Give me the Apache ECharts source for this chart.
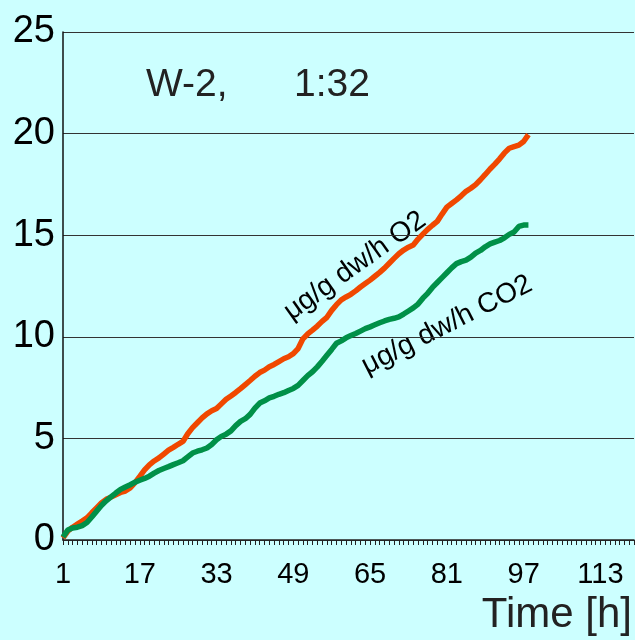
<!DOCTYPE html>
<html><head><meta charset="utf-8">
<script src="https://cdn.jsdelivr.net/npm/echarts@6/dist/echarts.min.js"></script>
<style>html,body{margin:0;padding:0;background:#ccffff}#c{width:635px;height:640px}</style>
</head><body><div id="c"></div>
<script>
var categories = [];
for (var i = 1; i <= 120; i++) categories.push(String(i));
var o2Values = [0.1,0.44,0.63,0.78,0.93,1.09,1.34,1.58,1.82,2.0,2.11,2.23,2.34,2.41,2.56,2.82,3.13,3.45,3.7,3.89,4.04,4.23,4.42,4.56,4.71,4.85,5.23,5.53,5.77,6.01,6.21,6.36,6.47,6.7,6.93,7.09,7.26,7.45,7.65,7.85,8.06,8.24,8.36,8.53,8.64,8.78,8.92,9.02,9.17,9.42,9.9,10.14,10.33,10.53,10.76,10.96,11.3,11.58,11.82,11.96,12.09,12.26,12.45,12.62,12.79,12.98,13.17,13.38,13.62,13.86,14.09,14.27,14.41,14.52,14.81,15.05,15.29,15.49,15.68,16.04,16.38,16.56,16.74,16.94,17.16,17.31,17.49,17.73,17.99,18.26,18.5,18.76,19.05,19.28,19.36,19.43,19.61,19.95];
var co2Values = [0.15,0.49,0.59,0.63,0.71,0.86,1.13,1.42,1.7,1.93,2.12,2.31,2.49,2.61,2.72,2.84,2.94,3.03,3.14,3.29,3.42,3.52,3.61,3.71,3.8,3.9,4.09,4.28,4.37,4.44,4.53,4.7,4.93,5.1,5.21,5.37,5.63,5.84,5.97,6.18,6.49,6.74,6.85,6.99,7.07,7.17,7.25,7.36,7.46,7.61,7.85,8.09,8.28,8.52,8.8,9.09,9.38,9.68,9.8,9.95,10.06,10.16,10.28,10.4,10.49,10.59,10.69,10.78,10.86,10.91,10.98,11.12,11.27,11.42,11.61,11.9,12.14,12.43,12.67,12.91,13.15,13.39,13.6,13.7,13.77,13.92,14.12,14.25,14.43,14.57,14.66,14.74,14.87,15.04,15.16,15.43,15.5,15.5];
var yTicks = [0,5,10,15,20,25];
var titleLeft = 'W-2,';
var titleRight = '1:32';
var o2Label = 'μg/g dw/h O2';
var co2Label = 'μg/g dw/h CO2';
var xName = 'Time [h]';

var chart = echarts.init(document.getElementById('c'));
var font = 'Liberation Sans, Arial, sans-serif';
chart.setOption({
  backgroundColor: '#ccffff',
  animation: false,
  grid: {left: 63, right: 1, top: 32, bottom: 100, containLabel: false, outerBoundsMode: 'none'},
  xAxis: {
    type: 'category', data: categories, boundaryGap: false,
    axisLine: {show: true, lineStyle: {color: '#222', width: 1.5}},
    axisTick: {show: true, interval: 0, length: 5, lineStyle: {color: '#222'}},
    axisLabel: {interval: 15, color: '#000', fontSize: 29, fontFamily: font, margin: 20, hideOverlap: false},
    splitLine: {show: false}
  },
  yAxis: {
    type: 'value', min: yTicks[0], max: yTicks[yTicks.length-1], interval: 5,
    axisLine: {show: true, lineStyle: {color: '#111', width: 1.5}},
    axisTick: {show: false},
    axisLabel: {color: '#000', fontSize: 38, fontFamily: font, margin: 8},
    splitLine: {show: true, lineStyle: {color: '#333', width: 1.2}}
  },
  series: [
    {type: 'line', data: o2Values, showSymbol: false, smooth: false,
     lineStyle: {color: '#f04800', width: 5.5}, itemStyle: {color: '#f04800'}, z: 2},
    {type: 'line', data: co2Values, showSymbol: false, smooth: false,
     lineStyle: {color: '#009048', width: 5.5}, itemStyle: {color: '#009048'}, z: 3}
  ],
  graphic: [
    {type: 'text', left: 146, top: 66, style: {text: titleLeft, fontSize: 39, fontFamily: font, fill: '#222'}},
    {type: 'text', left: 294, top: 66, style: {text: titleRight, fontSize: 39, fontFamily: font, fill: '#222'}},
    {type: 'text', right: 3, top: 594, style: {text: xName, fontSize: 42, fontFamily: font, fill: '#222'}},
    {type: 'text', x: 355, y: 266, rotation: 35.5 * Math.PI / 180,
     style: {text: o2Label, fontSize: 28, fontFamily: font, fill: '#000', align: 'center', verticalAlign: 'middle'}},
    {type: 'text', x: 447, y: 325, rotation: 27 * Math.PI / 180,
     style: {text: co2Label, fontSize: 28, fontFamily: font, fill: '#000', align: 'center', verticalAlign: 'middle'}}
  ]
});
</script></body></html>
